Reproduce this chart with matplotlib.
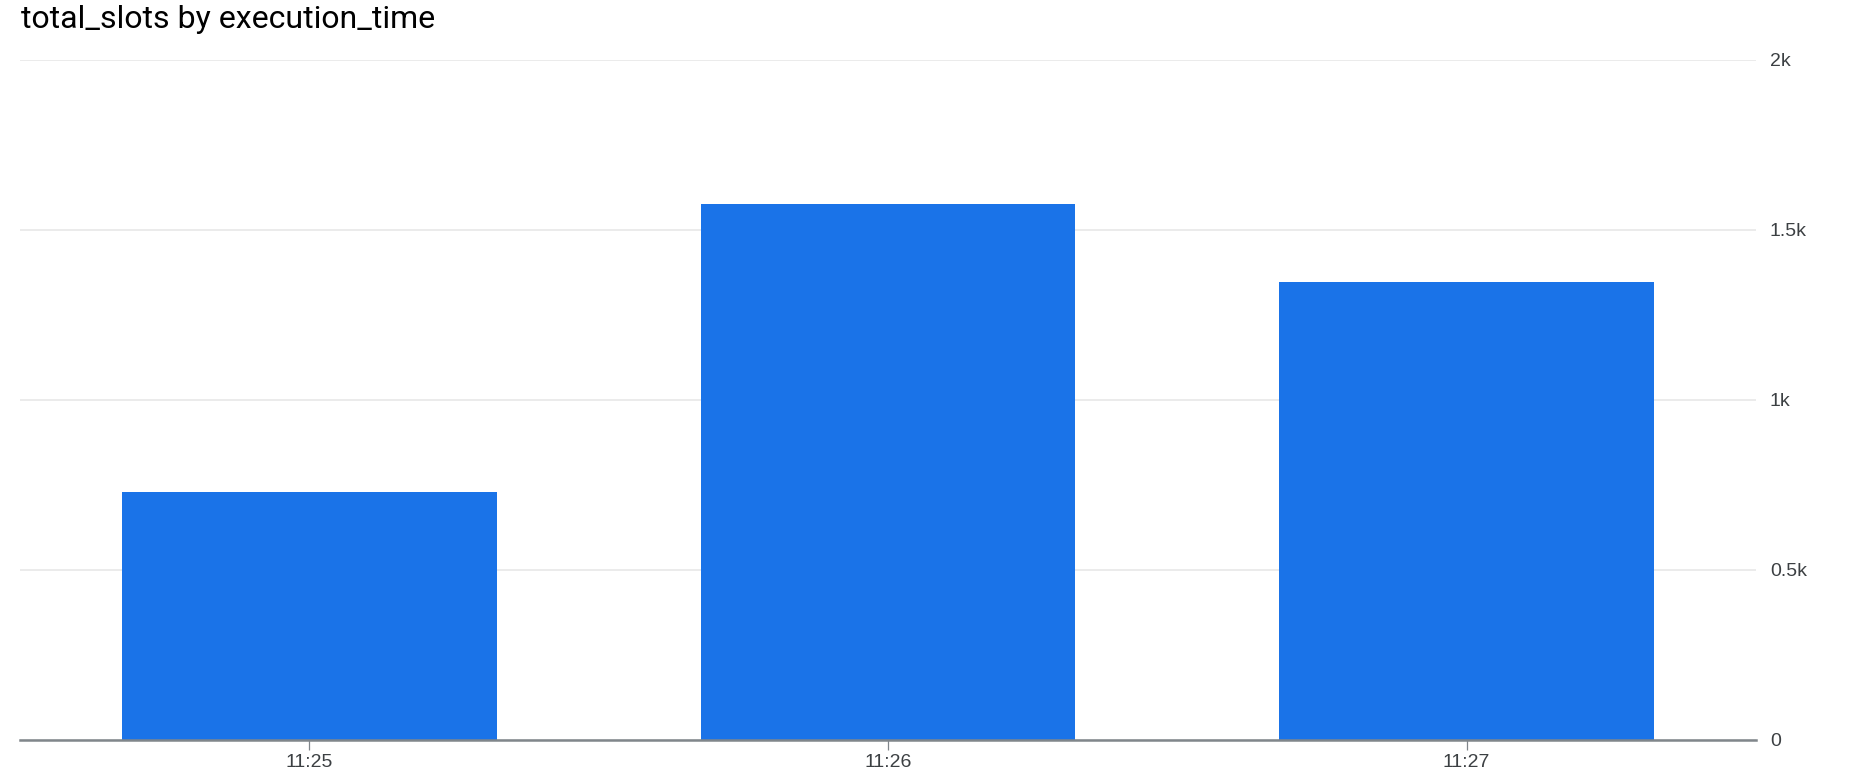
import matplotlib
matplotlib.use("Agg")
import matplotlib.pyplot as plt
from matplotlib.ticker import FuncFormatter

# data
times = ["11:25", "11:26", "11:27"]
total_slots = [729, 1576, 1348]
y_ticks = [0, 500, 1000, 1500, 2000]

BAR_BLUE = "#1a73e8"
GRID_GREY = "#e8e8e8"
AXIS_GREY = "#80868b"
TEXT_GREY = "#3c4043"


def k_fmt(v, pos):
    if v == 0:
        return "0"
    return ("%g" % (v / 1000.0)) + "k"


fig = plt.figure(figsize=(18.54, 7.78), dpi=100)
ax = fig.add_axes([20 / 1854, 1 - 740 / 778, 1736 / 1854, 680 / 778])

x = range(len(times))
ax.bar(x, total_slots, width=0.647, color=BAR_BLUE, zorder=3)

ax.set_xlim(-0.5, 2.5)
ax.set_ylim(0, 2000)
ax.set_xticks(list(x))
ax.set_xticklabels(times)
ax.set_yticks(y_ticks)
ax.yaxis.set_major_formatter(FuncFormatter(k_fmt))
ax.yaxis.tick_right()

ax.grid(axis="y", color=GRID_GREY, linewidth=1.2, zorder=0)
for side in ["top", "left", "right"]:
    ax.spines[side].set_visible(False)
ax.spines["bottom"].set_color(AXIS_GREY)
ax.spines["bottom"].set_linewidth(1.8)
ax.spines["bottom"].set_zorder(4)

ax.tick_params(axis="x", length=7, width=0.9, color=AXIS_GREY, pad=3,
               labelsize=14, labelcolor=TEXT_GREY)
ax.tick_params(axis="y", length=0, pad=10, labelsize=14, labelcolor=TEXT_GREY)
for lbl in ax.get_xticklabels() + ax.get_yticklabels():
    lbl.set_fontfamily("Liberation Sans")

fig.text(21 / 1854, 1 - 5 / 778, "total_slots by execution_time",
         family="Roboto", fontsize=23, color="#000000", va="top", ha="left")

fig.savefig("out.png", dpi=100, facecolor="white")
